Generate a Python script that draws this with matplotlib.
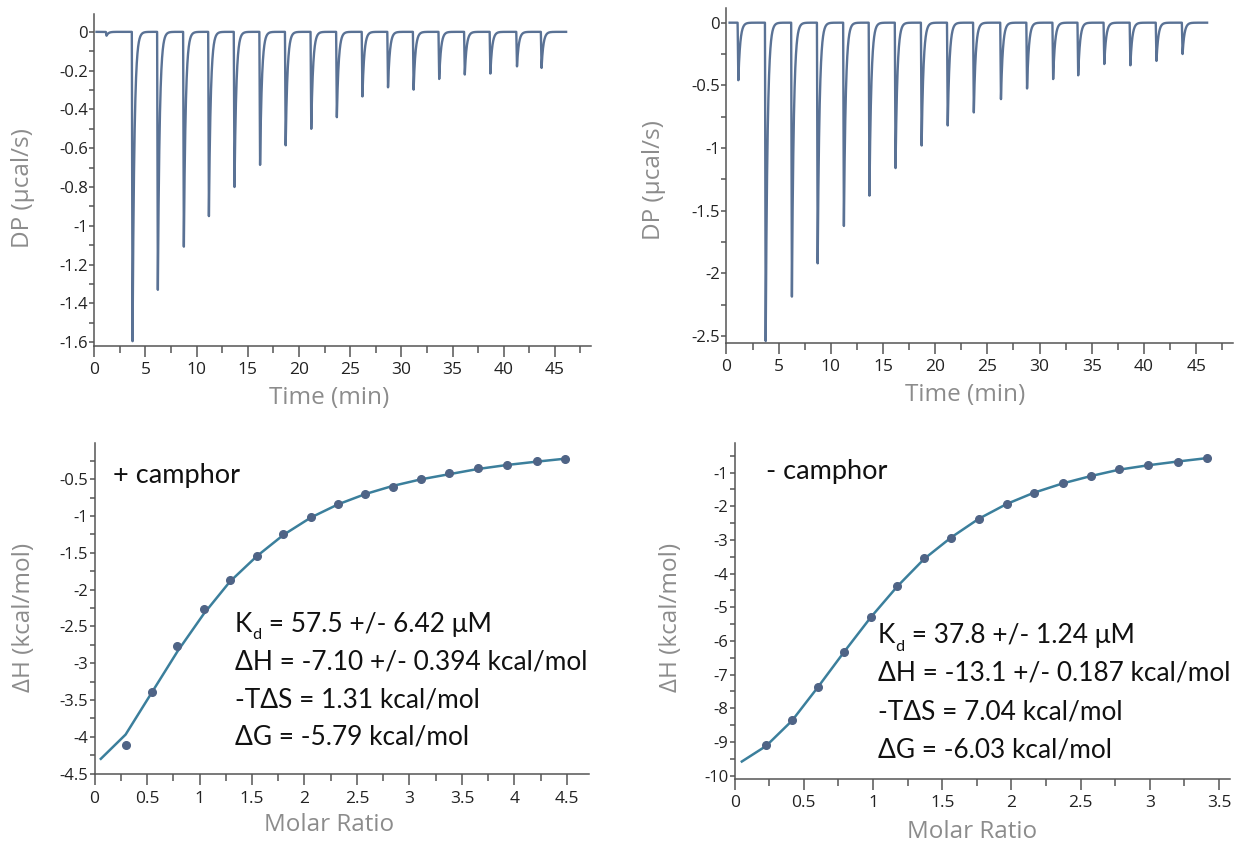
import numpy as np
import matplotlib
matplotlib.use("Agg")
import matplotlib.pyplot as plt
from matplotlib.ticker import MultipleLocator, FuncFormatter

# ---- raw thermograms: injection times (min) and peak depths (ucal/s)
inj_t_plus = [1.2, 3.74, 6.21, 8.75, 11.2, 13.7, 16.2, 18.7, 21.2, 23.7, 26.2,
              28.7, 31.2, 33.7, 36.2, 38.7, 41.3, 43.7]
inj_dp_plus = [-0.02, -1.595, -1.345, -1.12, -0.95, -0.80, -0.686, -0.585, -0.50,
               -0.44, -0.333, -0.286, -0.298, -0.243, -0.22, -0.215, -0.178, -0.186]
run_plus = [0.22, 46.1]

inj_t_minus = [1.14, 3.76, 6.27, 8.74, 11.25, 13.7, 16.2, 18.7, 21.2, 23.7, 26.3,
               28.8, 31.3, 33.7, 36.2, 38.7, 41.2, 43.7]
inj_dp_minus = [-0.459, -2.54, -2.21, -1.92, -1.64, -1.38, -1.16, -0.98, -0.82,
                -0.716, -0.61, -0.525, -0.45, -0.42, -0.33, -0.34, -0.305, -0.25]
run_minus = [0.3, 46.05]

# ---- integrated heats (+ camphor)
mr_plus = [0.296, 0.545, 0.79, 1.04, 1.29, 1.546, 1.80, 2.06, 2.32, 2.58, 2.84,
           3.11, 3.38, 3.65, 3.93, 4.21, 4.48]
dh_plus = [-4.11, -3.39, -2.77, -2.26, -1.87, -1.54, -1.25, -1.01, -0.84, -0.70,
           -0.60, -0.50, -0.42, -0.35, -0.30, -0.25, -0.22]
fit_x_plus = [0.06] + mr_plus
fit_y_plus = [-4.30, -3.97, -3.40, -2.84, -2.33, -1.89, -1.545, -1.255, -1.02, -0.84,
              -0.70, -0.59, -0.50, -0.43, -0.36, -0.305, -0.26, -0.22]

# ---- integrated heats (- camphor)
mr_minus = [0.227, 0.414, 0.60, 0.79, 0.983, 1.175, 1.37, 1.566, 1.764, 1.966,
            2.16, 2.37, 2.575, 2.78, 2.99, 3.20, 3.41]
dh_minus = [-9.09, -8.36, -7.36, -6.32, -5.29, -4.37, -3.54, -2.93, -2.37, -1.93,
            -1.60, -1.31, -1.10, -0.90, -0.78, -0.67, -0.57]
fit_x_minus = [0.052] + mr_minus
fit_y_minus = [-9.58, -9.12, -8.37, -7.38, -6.33, -5.30, -4.38, -3.56, -2.92, -2.37,
               -1.93, -1.60, -1.32, -1.10, -0.91, -0.78, -0.67, -0.57]

text_plus = ["57.5 +/- 6.42 \u03bcM", "\u0394H = -7.10 +/- 0.394 kcal/mol",
             "-T\u0394S = 1.31 kcal/mol", "\u0394G = -5.79 kcal/mol"]
text_minus = ["37.8 +/- 1.24 \u03bcM", "\u0394H = -13.1 +/- 0.187 kcal/mol",
              "-T\u0394S = 7.04 kcal/mol", "\u0394G = -6.03 kcal/mol"]

trace_col = "#5a7295"
fit_col = "#3b7f9c"
dot_col = "#4f6486"
lab_col = "#8c8c8c"
tick_font = "Open Sans"
ann_font = ["Lato", "Open Sans"]

plt.rcParams["font.family"] = tick_font


def trace(times, depths, run, tau=0.18, drop=0.07):
    t = np.arange(run[0], run[1], 0.004)
    y = np.zeros_like(t)
    for ti, d in zip(times, depths):
        fall = (t >= ti - drop) & (t < ti)
        y[fall] += d * (t[fall] - (ti - drop)) / drop
        rise = t >= ti
        y[rise] += d * np.exp(-(t[rise] - ti) / tau)
    return t, y


def fmt(v, pos):
    v = round(v, 3)
    if v == 0:
        return "0"
    return f"{v:g}"


def style(ax, xmaj, xmin, ymaj, ymin):
    for s in ["top", "right"]:
        ax.spines[s].set_visible(False)
    for s in ["left", "bottom"]:
        ax.spines[s].set_color("#555555")
        ax.spines[s].set_linewidth(1.1)
    ax.xaxis.set_major_locator(MultipleLocator(xmaj))
    ax.xaxis.set_minor_locator(MultipleLocator(xmin))
    ax.yaxis.set_major_locator(MultipleLocator(ymaj))
    ax.yaxis.set_minor_locator(MultipleLocator(ymin))
    ax.xaxis.set_major_formatter(FuncFormatter(fmt))
    ax.yaxis.set_major_formatter(FuncFormatter(fmt))
    ax.tick_params(axis="x", which="major", length=7.7, width=1.1, color="#555555",
                   pad=4, labelsize=12.5, labelcolor="#222222")
    ax.tick_params(axis="x", which="minor", length=5, width=1.1, color="#555555")
    ax.tick_params(axis="y", which="major", length=3.6, width=1.1, color="#555555",
                   pad=1, labelsize=12, labelcolor="#222222")
    ax.tick_params(axis="y", which="minor", length=3.6, width=1.1, color="#555555")


def labels(ax, xl, yl, xpos, ypos):
    ax.text(xpos[0], xpos[1], xl, transform=ax.transAxes, ha="center", va="center",
            fontsize=17.5, color=lab_col, family=tick_font)
    ax.text(ypos[0], ypos[1], yl, transform=ax.transAxes, ha="center", va="center",
            rotation=90, fontsize=17.5, color=lab_col, family=tick_font)


def stats(ax, x, ys, lines, size=18.9):
    k = ax.text(x, ys[0], "K", transform=ax.transAxes, fontsize=size,
                family=ann_font, va="baseline", color="#111111")
    d = ax.annotate("d", xy=(1, 0), xycoords=k, xytext=(0.3, -4),
                    textcoords="offset points", fontsize=size * 0.62,
                    family=ann_font, va="bottom", color="#111111")
    ax.annotate(" = " + lines[0], xy=(1, 0), xycoords=d, xytext=(0, 4),
                textcoords="offset points", fontsize=size, family=ann_font,
                va="bottom", color="#111111")
    for yy, s in zip(ys[1:], lines[1:]):
        ax.text(x, yy, s, transform=ax.transAxes, fontsize=size, family=ann_font,
                va="baseline", color="#111111")


fig = plt.figure(figsize=(12.42, 8.44), dpi=100)

# top left: + camphor raw
ax1 = fig.add_axes([0.0759, 0.5900, 0.3997, 0.3934])
t, y = trace(inj_t_plus, inj_dp_plus, run_plus)
ax1.plot(t, y, color=trace_col, lw=1.7)
ax1.set_xlim(0, 48.5)
ax1.set_ylim(-1.62, 0.092)
style(ax1, 5, 2.5, 0.2, 0.1)
labels(ax1, "Time (min)", "DP (\u03bccal/s)", (0.473, -0.157), (-0.1436, 0.476))

# top right: - camphor raw
ax2 = fig.add_axes([0.5849, 0.5940, 0.4076, 0.3962])
t, y = trace(inj_t_minus, inj_dp_minus, run_minus)
ax2.plot(t, y, color=trace_col, lw=1.7)
ax2.set_xlim(0, 48.5)
ax2.set_ylim(-2.553, 0.115)
style(ax2, 5, 2.5, 0.5, 0.25)
labels(ax2, "Time (min)", "DP (\u03bccal/s)", (0.471, -0.156), (-0.143, 0.4866))

# bottom left: + camphor isotherm
ax3 = fig.add_axes([0.0761, 0.0826, 0.3979, 0.3922])
ax3.plot(fit_x_plus, fit_y_plus, color=fit_col, lw=1.8, zorder=2)
ax3.plot(mr_plus, dh_plus, "o", color=dot_col, ms=5.5, zorder=3)
ax3.set_xlim(0, 4.707)
ax3.set_ylim(-4.51, -0.01)
style(ax3, 0.5, 0.25, 0.5, 0.25)
labels(ax3, "Molar Ratio", "\u0394H (kcal/mol)", (0.4745, -0.153), (-0.1427, 0.475))
ax3.text(0.038, 0.881, "+ camphor", transform=ax3.transAxes, fontsize=19.5,
         family=ann_font, va="baseline", color="#111111")
stats(ax3, 0.2835, [0.4308, 0.3172, 0.2024, 0.0885], text_plus)

# bottom right: - camphor isotherm
ax4 = fig.add_axes([0.5915, 0.0774, 0.3986, 0.3981])
ax4.plot(fit_x_minus, fit_y_minus, color=fit_col, lw=1.8, zorder=2)
ax4.plot(mr_minus, dh_minus, "o", color=dot_col, ms=5.5, zorder=3)
ax4.set_xlim(0, 3.577)
ax4.set_ylim(-10.09, -0.11)
style(ax4, 0.5, 0.25, 1, 0.5)
labels(ax4, "Molar Ratio", "\u0394H (kcal/mol)", (0.479, -0.159), (-0.129, 0.481))
ax4.text(0.0626, 0.891, "- camphor", transform=ax4.transAxes, fontsize=19.5,
         family=ann_font, va="baseline", color="#111111")
stats(ax4, 0.289, [0.403, 0.2908, 0.1768, 0.0637], text_minus)

fig.savefig("out.png", dpi=100)
